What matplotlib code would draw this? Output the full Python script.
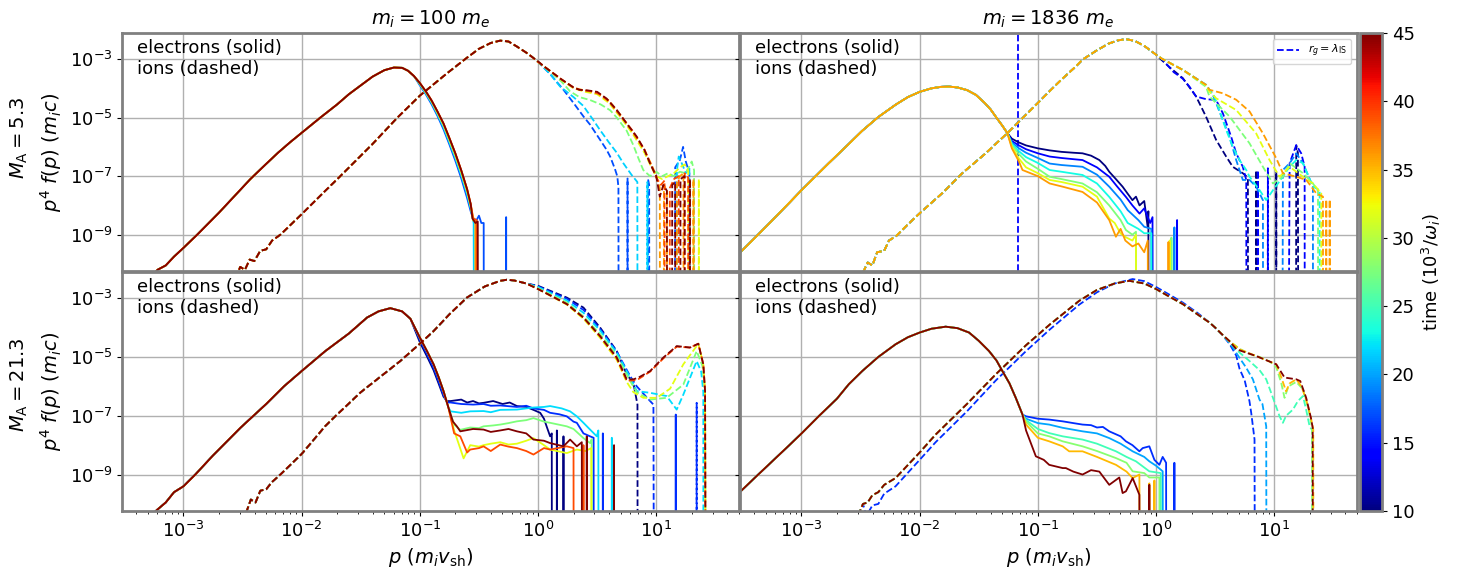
import numpy as np
import matplotlib
matplotlib.use("Agg")
import matplotlib.pyplot as plt
from matplotlib.colors import Normalize
from matplotlib.cm import ScalarMappable
from matplotlib.ticker import NullLocator

# all values are log10(p) and log10(p^4 f(p)); Z marks an empty bin
Z = -30

# ---------------- m_i = 100 m_e, M_A = 5.3 ----------------
tl_times = [17, 21.5, 27.5, 32, 36, 39, 45]
tl_e_x = [-3.30, -3.22, -3.15, -3.08, -3.0, -2.884, -2.7, -2.434, -2.3, -2.2, -2.1, -2.0, -1.842, -1.7, -1.6,
          -1.5, -1.4, -1.3, -1.22, -1.15, -1.1, -1.05, -1.0, -0.95, -0.9, -0.85, -0.8, -0.75, -0.7, -0.65,
          -0.6, -0.57]
tl_e_y = [-10.6, -10.2, -10.05, -9.75, -9.45, -9.0, -8.25, -7.1, -6.58, -6.2, -5.85, -5.52, -5.0, -4.55, -4.2,
          -3.9, -3.6, -3.38, -3.29, -3.3, -3.4, -3.58, -3.82, -4.1, -4.42, -4.8, -5.2, -5.7, -6.22, -6.8,
          -7.45, -7.95]
tl_e_tails = [
    [(-1.0, -3.9), (-0.95, -4.2), (-0.9, -4.55), (-0.85, -4.95), (-0.8, -5.4), (-0.75, -5.92), (-0.7, -6.47),
     (-0.65, -7.07), (-0.6, -7.75), (-0.57, -8.2), (-0.55, -8.45), (-0.52, -8.5), (-0.50, -8.35),
     (-0.48, -8.6), (-0.46, -8.6), (-0.455, Z), (-0.275, Z), (-0.27, -8.4), (-0.265, Z)],
    [(-1.0, -3.87), (-0.95, -4.17), (-0.9, -4.5), (-0.85, -4.9), (-0.8, -5.33), (-0.75, -5.85), (-0.7, -6.38),
     (-0.65, -6.97), (-0.6, -7.63), (-0.57, -8.1), (-0.56, -8.3), (-0.545, -8.6), (-0.53, Z)],
    [(-1.0, -3.85), (-0.95, -4.14), (-0.9, -4.47), (-0.85, -4.86), (-0.8, -5.28), (-0.75, -5.79), (-0.7, -6.32),
     (-0.65, -6.9), (-0.6, -7.55), (-0.57, -8.05), (-0.55, -8.5), (-0.53, -8.55), (-0.52, Z)],
    [(-1.0, -3.83), (-0.95, -4.12), (-0.9, -4.44), (-0.85, -4.83), (-0.8, -5.23), (-0.75, -5.74), (-0.7, -6.26),
     (-0.65, -6.84), (-0.6, -7.5), (-0.57, -8.0), (-0.55, -8.5), (-0.52, -8.6), (-0.51, Z)],
    [(-0.55, -8.4), (-0.53, -8.55), (-0.525, Z)],
    [(-0.55, -8.45), (-0.52, -8.5), (-0.515, Z)],
    [(-0.555, -8.45), (-0.53, -8.6), (-0.51, -8.55), (-0.505, Z)],
]
tl_i_x = [-2.56, -2.52, -2.48, -2.44, -2.40, -2.35, -2.30, -2.25, -2.18, -2.0, -1.8, -1.673, -1.4, -1.19,
          -1.0, -0.85, -0.743, -0.6, -0.5, -0.4, -0.32, -0.25, -0.18, -0.1, -0.05]
tl_i_y = [-10.5, -10.1, -10.2, -9.85, -9.9, -9.55, -9.5, -9.2, -9.0, -8.3, -7.5, -7.0, -5.9, -5.0,
          -4.25, -3.75, -3.4, -2.95, -2.65, -2.45, -2.37, -2.4, -2.57, -2.78, -2.93]
tl_i_tails = [
    [(0.0, -3.1), (0.1, -3.5), (0.215, -4.05), (0.3, -4.5), (0.384, -4.96), (0.44, -5.24), (0.525, -5.76),
     (0.58, -6.1), (0.61, -6.33), (0.65, -6.75), (0.67, -7.0), (0.68, -7.37), (0.685, Z), (0.752, Z),
     (0.757, -7.08), (0.762, Z), (0.925, Z), (0.93, -7.1), (0.94, -7.3), (0.945, Z), (1.15, Z),
     (1.16, -6.7), (1.2, -6.45), (1.227, -6.0), (1.25, -6.5), (1.28, -6.9), (1.285, Z)],
    [(0.0, -3.1), (0.1, -3.5), (0.187, -3.94), (0.3, -4.3), (0.383, -4.6), (0.47, -5.1), (0.52, -5.4),
     (0.6, -5.85), (0.666, -6.2), (0.72, -6.55), (0.79, -6.95), (0.84, -7.2), (0.845, Z), (0.92, Z),
     (0.925, -7.2), (0.93, Z), (1.17, Z), (1.175, -6.8), (1.19, -6.33), (1.22, -6.6), (1.25, -6.9),
     (1.28, -6.7), (1.29, Z)],
    [(0.0, -3.1), (0.1, -3.42), (0.2, -3.78), (0.27, -4.1), (0.35, -4.3), (0.44, -4.4), (0.53, -4.55),
     (0.61, -4.75), (0.666, -5.0), (0.75, -5.45), (0.807, -5.95), (0.85, -6.4), (0.89, -6.79),
     (0.947, -7.0), (1.0, -6.85), (1.05, -7.0), (1.1, -6.9), (1.15, -7.0), (1.2, -6.85), (1.25, -6.9),
     (1.3, -6.5), (1.32, -6.8), (1.325, Z)],
    [(0.0, -3.1), (0.1, -3.4), (0.2, -3.72), (0.3, -4.0), (0.4, -4.12), (0.5, -4.2), (0.6, -4.5),
     (0.7, -5.0), (0.8, -5.55), (0.9, -6.2), (0.96, -6.7), (1.0, -7.0), (1.05, -7.1), (1.1, -7.0),
     (1.15, -6.9), (1.2, -6.7), (1.24, -6.6), (1.27, -6.8), (1.28, Z), (1.355, Z), (1.36, -7.1), (1.365, Z)],
    [(0.0, -3.1), (0.1, -3.4), (0.2, -3.7), (0.3, -3.98), (0.4, -4.08), (0.5, -4.15), (0.6, -4.42),
     (0.7, -4.92), (0.8, -5.5), (0.9, -6.1), (0.97, -6.7), (1.0, -7.0), (1.03, -7.4), (1.035, Z),
     (1.06, Z), (1.065, -7.3), (1.09, -7.5), (1.095, Z), (1.17, Z), (1.175, -7.2), (1.2, -7.0),
     (1.23, -6.9), (1.235, Z), (1.31, Z), (1.315, -7.1), (1.32, Z)],
    [(0.0, -3.1), (0.1, -3.4), (0.2, -3.7), (0.3, -3.97), (0.35, -4.05), (0.45, -4.1), (0.52, -4.2),
     (0.6, -4.45), (0.7, -4.95), (0.8, -5.45), (0.9, -6.1), (0.97, -6.75), (1.0, -7.05), (1.04, -7.3),
     (1.07, -7.15), (1.075, Z), (1.11, Z), (1.115, -7.4), (1.15, -7.1), (1.19, -7.0), (1.195, Z),
     (1.235, Z), (1.24, -6.9), (1.27, -7.05), (1.275, Z)],
    [(0.0, -3.08), (0.05, -3.25), (0.1, -3.4), (0.2, -3.7), (0.3, -3.97), (0.35, -4.05), (0.42, -4.07),
     (0.5, -4.12), (0.58, -4.35), (0.666, -4.74), (0.75, -5.2), (0.835, -5.65), (0.9, -6.1),
     (0.947, -6.56), (1.0, -7.0), (1.03, -7.7), (1.06, -7.3), (1.09, -7.5), (1.095, Z), (1.13, Z),
     (1.135, -7.3), (1.16, -7.2), (1.165, Z), (1.2, Z), (1.205, -7.1), (1.24, -7.0), (1.245, Z),
     (1.28, Z), (1.285, -7.1), (1.29, Z)],
]

# ---------------- m_i = 1836 m_e, M_A = 5.3 ----------------
tr_times = [10, 14, 19, 23, 27.5, 32, 36]
tr_e_x = [-3.53, -3.4, -3.25, -3.1, -3.0, -2.9, -2.77, -2.6, -2.486, -2.35, -2.2, -2.1, -2.0, -1.9, -1.82,
          -1.752, -1.68, -1.6, -1.525, -1.45, -1.4, -1.356, -1.3, -1.258]
tr_e_y = [-9.65, -9.13, -8.52, -7.9, -7.48, -7.08, -6.56, -5.9, -5.45, -4.98, -4.55, -4.3, -4.12, -4.0, -3.95,
          -3.94, -3.97, -4.06, -4.22, -4.5, -4.72, -4.97, -5.28, -5.53]
tr_e_tails = [
    [(-1.22, -5.72), (-1.16, -5.85), (-1.1, -5.95), (-1.0, -6.05), (-0.9, -6.12), (-0.8, -6.17),
     (-0.7, -6.2), (-0.622, -6.22), (-0.55, -6.3), (-0.48, -6.45), (-0.43, -6.65), (-0.396, -6.85),
     (-0.34, -7.1), (-0.283, -7.36), (-0.24, -7.6), (-0.2, -7.82), (-0.17, -7.7), (-0.14, -8.0),
     (-0.1, -7.85), (-0.071, -8.73), (-0.065, -8.2), (-0.06, Z)],
    [(-1.22, -5.8), (-1.16, -5.95), (-1.1, -6.08), (-1.0, -6.22), (-0.9, -6.33), (-0.8, -6.38),
     (-0.7, -6.42), (-0.622, -6.45), (-0.5, -6.7), (-0.396, -7.02), (-0.33, -7.35), (-0.255, -7.71),
     (-0.2, -8.0), (-0.14, -8.28), (-0.1, -8.1), (-0.05, -8.6), (-0.03, -8.4), (-0.02, Z), (0.17, Z),
     (0.178, -8.5), (0.185, Z)],
    [(-1.22, -5.85), (-1.16, -6.05), (-1.1, -6.2), (-1.0, -6.38), (-0.9, -6.57), (-0.8, -6.62),
     (-0.622, -6.68), (-0.5, -6.95), (-0.396, -7.36), (-0.3, -7.8), (-0.24, -8.16), (-0.15, -8.5),
     (-0.1, -8.73), (-0.04, -8.8), (-0.03, Z), (0.15, Z), (0.155, -8.75), (0.16, Z)],
    [(-1.22, -5.9), (-1.16, -6.15), (-1.1, -6.35), (-1.0, -6.55), (-0.9, -6.79), (-0.8, -6.85),
     (-0.622, -6.96), (-0.5, -7.25), (-0.396, -7.71), (-0.3, -8.2), (-0.24, -8.6), (-0.15, -8.8),
     (-0.1, -8.95), (-0.04, -8.95), (-0.035, Z)],
    [(-1.22, -5.95), (-1.16, -6.25), (-1.1, -6.5), (-1.0, -6.75), (-0.9, -7.02), (-0.8, -7.1),
     (-0.622, -7.25), (-0.5, -7.55), (-0.396, -8.0), (-0.3, -8.5), (-0.255, -8.84), (-0.2, -9.0),
     (-0.17, -8.9), (-0.16, Z), (0.125, Z), (0.13, -9.1), (0.135, Z)],
    [(-1.22, -6.0), (-1.16, -6.4), (-1.1, -6.7), (-1.0, -6.9), (-0.9, -7.13), (-0.8, -7.2),
     (-0.622, -7.36), (-0.5, -7.7), (-0.396, -8.45), (-0.35, -8.6), (-0.3, -8.96), (-0.25, -9.1),
     (-0.2, -9.2), (-0.17, -9.0), (-0.16, Z), (0.11, Z), (0.115, -9.2), (0.12, Z)],
    [(-1.22, -6.05), (-1.16, -6.5), (-1.13, -6.79), (-1.0, -7.0), (-0.9, -7.25), (-0.79, -7.36),
     (-0.622, -7.54), (-0.5, -7.9), (-0.396, -8.5), (-0.34, -9.07), (-0.3, -8.8), (-0.26, -9.2),
     (-0.2, -9.4), (-0.15, -9.3), (-0.1, -9.6), (-0.07, -9.2), (-0.065, Z), (0.1, Z), (0.105, -9.25),
     (0.11, Z)],
]
tr_i_x = [-2.48, -2.44, -2.40, -2.36, -2.30, -2.26, -2.2, -2.1, -2.0, -1.8, -1.64, -1.45, -1.258, -1.0,
          -0.904, -0.8, -0.678, -0.622, -0.5, -0.4, -0.32, -0.254, -0.18, -0.1, 0.0]
tr_i_y = [-10.3, -9.95, -10.05, -9.6, -9.55, -9.2, -9.05, -8.65, -8.27, -7.55, -6.9, -6.25, -5.53, -4.5,
          -4.11, -3.7, -3.25, -3.02, -2.7, -2.47, -2.36, -2.32, -2.38, -2.55, -2.85]
tr_i_tails = [
    [(0.03, -2.97), (0.12, -3.3), (0.226, -3.65), (0.339, -4.28), (0.423, -4.97), (0.508, -5.76),
     (0.593, -6.33), (0.649, -6.68), (0.734, -6.9), (0.763, -7.0), (0.777, -7.13), (0.78, Z), (0.845, Z),
     (0.847, -6.8), (0.85, Z), (1.015, Z), (1.017, -6.85), (1.02, Z), (1.18, Z), (1.186, -5.95),
     (1.2, -6.2), (1.21, Z)],
    [(0.05, -3.0), (0.15, -3.45), (0.226, -3.67), (0.282, -3.94), (0.339, -4.28), (0.423, -4.37),
     (0.508, -4.4), (0.565, -4.85), (0.635, -5.65), (0.678, -6.22), (0.734, -6.68), (0.763, -7.13),
     (0.77, Z), (0.858, Z), (0.861, -6.8), (0.865, Z), (0.94, Z), (0.946, -6.73), (0.95, Z), (1.1, Z),
     (1.13, -6.56), (1.186, -5.94), (1.228, -6.22), (1.257, -6.68), (1.26, Z)],
    [(0.05, -2.99), (0.226, -3.37), (0.423, -3.88), (0.48, -4.22), (0.565, -5.08), (0.621, -5.65),
     (0.678, -6.45), (0.734, -7.13), (0.791, -7.13), (0.847, -7.36), (0.904, -7.82), (0.91, Z), (1.06, Z),
     (1.073, -6.79), (1.13, -6.56), (1.186, -6.22), (1.243, -6.56), (1.327, -7.36), (1.33, Z)],
    [(0.05, -2.99), (0.226, -3.37), (0.423, -3.88), (0.494, -4.28), (0.593, -5.42), (0.649, -5.99),
     (0.706, -6.45), (0.763, -6.79), (0.791, -7.02), (0.876, -7.48), (0.932, -7.82), (0.989, -7.48),
     (1.073, -7.02), (1.13, -6.68), (1.186, -6.45), (1.243, -6.56), (1.327, -7.36), (1.384, -7.48),
     (1.39, Z)],
    [(0.05, -2.99), (0.226, -3.37), (0.423, -3.95), (0.452, -4.28), (0.621, -4.96), (0.791, -5.88),
     (0.904, -6.68), (0.989, -7.25), (1.073, -7.02), (1.13, -6.56), (1.243, -6.9), (1.327, -7.25),
     (1.37, -7.5), (1.375, Z)],
    [(0.05, -2.99), (0.226, -3.37), (0.423, -3.9), (0.452, -4.11), (0.508, -4.34), (0.678, -4.74),
     (0.847, -5.54), (0.96, -6.45), (1.045, -7.02), (1.13, -6.68), (1.243, -7.02), (1.327, -7.25),
     (1.398, -7.59), (1.4, Z)],
    [(0.05, -2.99), (0.226, -3.37), (0.423, -3.88), (0.452, -4.05), (0.565, -4.17), (0.678, -4.39),
     (0.791, -4.79), (0.904, -5.54), (1.017, -6.39), (1.073, -6.9), (1.186, -7.02), (1.271, -7.13),
     (1.356, -7.59), (1.412, -7.7), (1.415, Z), (1.437, Z), (1.44, -7.8), (1.443, Z), (1.466, Z),
     (1.469, -7.8), (1.472, Z)],
]
r_g_lambda = 0.068

# ---------------- m_i = 100 m_e, M_A = 21.3 ----------------
bl_times = [10, 16, 22, 27.5, 32, 39, 45]
bl_e_x = [-3.30, -3.223, -3.15, -3.08, -3.0, -2.9, -2.75, -2.518, -2.3, -2.15, -2.0, -1.8, -1.6, -1.447,
          -1.35, -1.25, -1.15, -1.08, -1.0, -0.94, -0.884, -0.84, -0.8, -0.76]
bl_e_y = [-10.5, -10.2, -9.95, -9.6, -9.4, -9.0, -8.35, -7.41, -6.6, -6.0, -5.48, -4.8, -4.2, -3.66,
          -3.45, -3.34, -3.45, -3.7, -4.34, -4.8, -5.25, -5.7, -6.16, -6.7]
bl_e_tails = [
    [(-1.0, -4.5), (-0.94, -4.98), (-0.884, -5.45), (-0.84, -5.92), (-0.8, -6.35), (-0.77, -6.5),
     (-0.74, -6.5), (-0.65, -6.45), (-0.6, -6.55), (-0.55, -6.5), (-0.5, -6.58), (-0.461, -6.56),
     (-0.38, -6.5), (-0.3, -6.6), (-0.24, -6.55), (-0.179, -6.67), (-0.1, -6.7), (-0.039, -6.8),
     (0.018, -6.9), (0.05, -7.1), (0.074, -7.38), (0.102, -7.7), (0.116, -7.6), (0.12, Z), (0.155, Z),
     (0.159, -7.5), (0.163, Z), (0.21, Z), (0.215, -7.7), (0.22, Z)],
    [(-1.0, -4.42), (-0.94, -4.9), (-0.884, -5.37), (-0.84, -5.84), (-0.8, -6.3), (-0.77, -6.55),
     (-0.74, -6.55), (-0.65, -6.6), (-0.55, -6.62), (-0.461, -6.6), (-0.4, -6.66), (-0.32, -6.65),
     (-0.179, -6.7), (-0.1, -6.66), (-0.039, -6.75), (0.05, -6.8), (0.102, -6.9), (0.18, -6.95),
     (0.243, -7.02), (0.3, -7.2), (0.328, -7.24), (0.384, -7.6), (0.44, -7.7), (0.47, -7.75), (0.475, Z),
     (0.545, Z), (0.548, -7.6), (0.552, Z), (1.16, Z), (1.165, -6.96), (1.17, Z)],
    [(-0.74, -6.85), (-0.65, -6.9), (-0.574, -6.85), (-0.461, -6.84), (-0.4, -6.88), (-0.32, -6.8),
     (-0.179, -6.79), (-0.1, -6.75), (-0.039, -6.72), (0.05, -6.7), (0.102, -6.67), (0.2, -6.75),
     (0.271, -6.85), (0.328, -7.02), (0.384, -7.24), (0.44, -7.47), (0.497, -7.7), (0.51, -7.5),
     (0.515, Z), (0.62, Z), (0.624, -7.75), (0.628, Z)],
    [(-0.71, -7.3), (-0.658, -7.48), (-0.574, -7.4), (-0.5, -7.42), (-0.461, -7.36), (-0.38, -7.33),
     (-0.32, -7.3), (-0.25, -7.25), (-0.179, -7.19), (-0.1, -7.15), (-0.039, -7.08), (0.05, -7.2),
     (0.102, -7.24), (0.243, -7.36), (0.3, -7.45), (0.384, -7.76), (0.44, -7.93), (0.454, -7.8), (0.46, Z)],
    [(-0.71, -7.5), (-0.63, -8.45), (-0.574, -8.0), (-0.5, -8.05), (-0.461, -8.0), (-0.4, -7.95),
     (-0.32, -7.9), (-0.25, -7.98), (-0.179, -7.95), (-0.1, -7.85), (-0.039, -7.76), (0.05, -8.0),
     (0.102, -8.15), (0.243, -8.27), (0.328, -8.15), (0.4, -8.2), (0.45, -8.1), (0.455, Z)],
    [(-0.71, -7.6), (-0.658, -7.7), (-0.6, -8.25), (-0.574, -8.15), (-0.5, -8.1), (-0.461, -8.04),
     (-0.4, -8.2), (-0.32, -7.98), (-0.25, -8.05), (-0.179, -8.1), (-0.1, -8.2), (-0.039, -8.32),
     (0.05, -8.1), (0.102, -8.15), (0.243, -8.04), (0.3, -8.1), (0.305, Z), (0.38, Z), (0.384, -8.0),
     (0.39, Z)],
    [(-0.72, -7.2), (-0.687, -7.36), (-0.658, -7.53), (-0.55, -7.45), (-0.461, -7.47), (-0.4, -7.55),
     (-0.32, -7.5), (-0.25, -7.45), (-0.179, -7.53), (-0.1, -7.6), (-0.039, -7.81), (0.05, -7.85),
     (0.102, -7.93), (0.215, -8.04), (0.271, -7.81), (0.328, -8.04), (0.37, -7.9), (0.375, Z), (0.41, Z),
     (0.412, -7.7), (0.416, Z), (0.64, Z), (0.643, -8.0), (0.647, Z)],
]
bl_i_x = [-2.47, -2.43, -2.39, -2.35, -2.3, -2.25, -2.18, -2.0, -1.8, -1.729, -1.5, -1.166, -1.0, -0.884,
          -0.75, -0.602, -0.45, -0.32, -0.264, -0.2, -0.1]
bl_i_y = [-10.3, -9.85, -9.95, -9.55, -9.5, -9.25, -9.0, -8.3, -7.35, -7.07, -6.2, -5.14, -4.55, -4.12,
          -3.55, -2.98, -2.6, -2.41, -2.374, -2.4, -2.5]
bl_i_tails = [
    [(0.0, -2.58), (0.243, -2.98), (0.384, -3.32), (0.525, -4.0), (0.666, -4.8), (0.75, -5.59),
     (0.807, -5.9), (0.841, -6.62), (0.845, Z)],
    [(0.0, -2.6), (0.243, -3.02), (0.384, -3.4), (0.525, -4.05), (0.666, -4.82), (0.779, -5.65),
     (0.835, -6.0), (0.948, -6.5), (0.976, -6.62), (0.99, Z), (1.335, Z), (1.342, -6.56), (1.345, Z)],
    [(0.0, -2.62), (0.243, -3.08), (0.384, -3.5), (0.525, -4.1), (0.666, -4.85), (0.779, -5.7),
     (0.835, -6.16), (0.948, -6.22), (1.088, -6.33), (1.173, -6.79), (1.229, -6.28), (1.342, -5.14),
     (1.38, -5.5), (1.398, -6.2), (1.40, Z)],
    [(0.0, -2.66), (0.243, -3.15), (0.384, -3.62), (0.525, -4.22), (0.666, -4.95), (0.779, -5.82),
     (0.835, -6.2), (0.948, -6.45), (1.088, -6.39), (1.229, -5.94), (1.342, -4.8), (1.39, -5.3),
     (1.413, -6.17), (1.425, Z)],
    [(0.0, -2.69), (0.243, -3.22), (0.384, -3.7), (0.525, -4.35), (0.666, -5.1), (0.75, -5.85),
     (0.807, -6.2), (0.891, -6.39), (1.004, -6.39), (1.117, -6.08), (1.229, -5.25), (1.356, -4.55),
     (1.398, -5.25), (1.413, -6.17), (1.427, Z)],
    [(0.0, -2.69), (0.243, -3.2), (0.384, -3.66), (0.525, -4.3), (0.666, -5.05), (0.75, -5.8),
     (0.807, -5.8), (0.85, -5.75), (0.948, -5.5), (1.06, -5.05), (1.173, -4.65), (1.286, -4.68),
     (1.356, -4.55), (1.398, -5.25), (1.413, -6.17), (1.427, Z)],
    [(0.0, -2.69), (0.243, -3.2), (0.384, -3.66), (0.525, -4.29), (0.666, -5.02), (0.75, -5.76),
     (0.807, -5.76), (0.85, -5.7), (0.948, -5.48), (1.06, -5.02), (1.173, -4.63), (1.286, -4.68),
     (1.356, -4.55), (1.398, -5.25), (1.413, -6.17), (1.427, Z)],
]

# ---------------- m_i = 1836 m_e, M_A = 21.3 ----------------
br_times = [16, 20, 25, 28, 35, 45]
br_e_x = [-3.53, -3.4, -3.25, -3.1, -2.995, -2.85, -2.7, -2.6, -2.486, -2.35, -2.204, -2.1, -2.0, -1.9,
          -1.78, -1.68, -1.582, -1.5, -1.413, -1.35, -1.3, -1.24, -1.187, -1.13]
br_e_y = [-9.63, -9.13, -8.56, -7.99, -7.585, -7.0, -6.42, -5.93, -5.48, -5.0, -4.57, -4.33, -4.17, -4.04,
          -3.97, -4.02, -4.17, -4.45, -4.8, -5.12, -5.48, -5.9, -6.39, -6.96]
br_e_tails = [
    [(-1.1, -7.02), (-1.0, -7.1), (-0.904, -7.13), (-0.79, -7.19), (-0.7, -7.25), (-0.622, -7.3),
     (-0.55, -7.32), (-0.5, -7.4), (-0.45, -7.38), (-0.396, -7.53), (-0.3, -7.7), (-0.255, -7.87),
     (-0.2, -8.0), (-0.141, -8.21), (-0.113, -8.1), (-0.057, -8.04), (-0.014, -8.5), (0.028, -8.67),
     (0.056, -8.4), (0.085, -8.6), (0.09, Z), (0.15, Z), (0.155, -8.6), (0.16, Z)],
    [(-1.1, -7.1), (-1.0, -7.25), (-0.904, -7.3), (-0.79, -7.41), (-0.622, -7.53), (-0.5, -7.6),
     (-0.396, -7.76), (-0.3, -7.95), (-0.198, -8.21), (-0.1, -8.4), (-0.057, -8.55), (0.0, -8.7),
     (0.056, -8.89), (0.07, Z)],
    [(-1.1, -7.15), (-1.0, -7.45), (-0.904, -7.59), (-0.79, -7.7), (-0.622, -7.81), (-0.5, -7.95),
     (-0.339, -8.21), (-0.25, -8.4), (-0.17, -8.55), (-0.057, -8.89), (0.04, -8.95), (0.05, Z)],
    [(-1.1, -7.2), (-1.0, -7.6), (-0.904, -7.7), (-0.79, -7.87), (-0.622, -8.04), (-0.5, -8.2),
     (-0.339, -8.44), (-0.25, -8.6), (-0.198, -8.89), (-0.1, -8.95), (-0.057, -9.1), (0.028, -9.1),
     (0.03, Z)],
    [(-1.1, -7.3), (-1.0, -7.75), (-0.904, -7.87), (-0.79, -8.04), (-0.735, -8.21), (-0.622, -8.21),
     (-0.5, -8.4), (-0.339, -8.67), (-0.25, -8.9), (-0.198, -9.12), (-0.141, -9.0), (-0.127, Z),
     (-0.06, Z), (-0.057, -9.3), (-0.05, Z), (-0.02, Z), (-0.014, -9.2), (-0.01, Z)],
    [(-1.1, -7.5), (-1.017, -8.38), (-0.95, -8.5), (-0.904, -8.67), (-0.79, -8.78), (-0.763, -8.78),
     (-0.7, -8.9), (-0.622, -9.0), (-0.55, -8.85), (-0.48, -8.9), (-0.396, -9.35), (-0.311, -9.1),
     (-0.283, -9.63), (-0.255, -9.57), (-0.198, -9.12), (-0.141, -9.69), (-0.135, Z), (-0.06, Z),
     (-0.057, -9.35), (-0.052, Z)],
]
br_i_x = [-2.52, -2.48, -2.44, -2.40, -2.35, -2.30, -2.204, -2.0, -1.865, -1.6, -1.356, -1.1, -0.9,
          -0.65, -0.5, -0.35, -0.226, -0.1, 0.0, 0.1, 0.226, 0.35, 0.452, 0.5]
br_i_y = [-10.4, -10.0, -9.95, -9.7, -9.6, -9.35, -9.12, -8.25, -7.64, -6.6, -5.59, -4.6, -3.9,
          -3.09, -2.72, -2.5, -2.41, -2.5, -2.69, -2.92, -3.2, -3.55, -3.83, -4.0]
br_i_tails = [
    [(-2.45, -10.4), (-2.40, -10.05), (-2.35, -10.0), (-2.30, -9.65), (-2.204, -9.4), (-2.0, -8.5),
     (-1.865, -7.9), (-1.6, -6.85), (-1.356, -5.8), (-1.1, -4.8), (-0.9, -4.07), (-0.65, -3.22),
     (-0.5, -2.8), (-0.35, -2.5), (-0.198, -2.35), (-0.1, -2.42), (0.0, -2.62), (0.1, -2.85),
     (0.226, -3.15), (0.35, -3.5), (0.452, -3.83), (0.55, -4.2), (0.621, -4.55), (0.678, -4.95),
     (0.706, -5.4), (0.75, -5.8), (0.79, -6.5), (0.805, -6.9), (0.833, -7.8), (0.845, Z)],
    [(0.55, -4.2), (0.621, -4.5), (0.706, -5.03), (0.76, -5.35), (0.819, -5.76), (0.875, -6.45),
     (0.9, -6.6), (0.932, -7.36), (0.94, Z)],
    [(0.55, -4.2), (0.621, -4.5), (0.706, -4.85), (0.791, -5.14), (0.876, -5.45), (0.932, -5.76),
     (0.99, -6.4), (1.045, -7.02), (1.073, -7.24), (1.1, -7.0), (1.158, -6.79), (1.2, -6.5),
     (1.243, -6.33), (1.27, -6.8), (1.299, -7.36), (1.322, -7.5), (1.325, Z)],
    [(0.55, -4.2), (0.621, -4.46), (0.706, -4.72), (0.791, -4.9), (0.876, -5.0), (0.96, -5.15),
     (1.017, -5.35), (1.06, -5.9), (1.087, -6.39), (1.12, -6.0), (1.186, -5.85), (1.243, -6.1),
     (1.29, -6.8), (1.32, -7.4), (1.325, Z)],
    [(0.55, -4.2), (0.621, -4.46), (0.706, -4.74), (0.848, -4.97), (1.017, -5.25), (1.06, -5.7),
     (1.1, -6.17), (1.13, -5.9), (1.186, -5.76), (1.23, -6.0), (1.27, -6.45), (1.31, -7.07),
     (1.33, -7.47), (1.335, Z)],
    [(0.55, -4.2), (0.621, -4.46), (0.68, -4.74), (0.848, -4.97), (1.017, -5.25), (1.087, -5.7),
     (1.186, -5.76), (1.22, -5.82), (1.27, -6.39), (1.31, -7.07), (1.325, -7.4), (1.33, Z)],
]

col_titles = [r"$m_i = 100\ m_e$", r"$m_i = 1836\ m_e$"]
row_labels = [r"$M_{\rm A} = 5.3$", r"$M_{\rm A} = 21.3$"]

cmap = plt.get_cmap("jet")
norm = Normalize(10, 45)


def join(bx, by, tail):
    # bulk points up to where this time's tail takes over
    n = sum(1 for x in bx if x < tail[0][0])
    xs = list(bx[:n]) + [t[0] for t in tail]
    ys = list(by[:n]) + [t[1] for t in tail]
    return 10.0 ** np.array(xs), 10.0 ** np.array(ys, dtype=float)


def draw(ax, times, ex, ey, etails, ix, iy, itails):
    for t, et, it in zip(times, etails, itails):
        c = cmap(norm(t))
        ax.plot(*join(ex, ey, et), color=c, lw=1.3)
        ax.plot(*join(ix, iy, it), color=c, lw=1.3, ls="--")


W, H = 1461, 570


def box(x0, y0, x1, y1):
    return [x0 / W, 1 - y1 / H, (x1 - x0) / W, (y1 - y0) / H]


fig = plt.figure(figsize=(W / 100, H / 100), dpi=100)
ax_tl = fig.add_axes(box(122, 33, 739, 271))
ax_tr = fig.add_axes(box(740, 33, 1357, 271), sharex=ax_tl, sharey=ax_tl)
ax_bl = fig.add_axes(box(122, 272, 739, 511), sharex=ax_tl, sharey=ax_tl)
ax_br = fig.add_axes(box(740, 272, 1357, 511), sharex=ax_tl, sharey=ax_tl)
cax = fig.add_axes(box(1360, 33, 1382, 511))

ax_tr.axvline(r_g_lambda, color="b", ls="--", lw=1.3, label=r"$r_g = \lambda_{\rm IS}$")

draw(ax_tl, tl_times, tl_e_x, tl_e_y, tl_e_tails, tl_i_x, tl_i_y, tl_i_tails)
draw(ax_tr, tr_times, tr_e_x, tr_e_y, tr_e_tails, tr_i_x, tr_i_y, tr_i_tails)
draw(ax_bl, bl_times, bl_e_x, bl_e_y, bl_e_tails, bl_i_x, bl_i_y, bl_i_tails)
draw(ax_br, br_times, br_e_x, br_e_y, br_e_tails, br_i_x, br_i_y, br_i_tails)

ax_tl.set_xscale("log")
ax_tl.set_yscale("log")
ax_tl.set_xlim(10 ** -3.52, 10 ** 1.70)
ax_tl.set_ylim(10 ** -10.24, 10 ** -2.11)
ax_tl.set_yticks([1e-9, 1e-7, 1e-5, 1e-3])
ax_tl.yaxis.set_minor_locator(NullLocator())

for ax in [ax_tl, ax_tr, ax_bl, ax_br]:
    ax.grid(True, which="major", color="#b0b0b0", lw=1.0)
    ax.tick_params(labelsize=13)
    for s in ax.spines.values():
        s.set_color("gray")
        s.set_linewidth(2)
    ax.text(0.025, 0.975, "electrons (solid)\nions (dashed)", transform=ax.transAxes,
            va="top", ha="left", fontsize=13)

ax_tl.tick_params(labelbottom=False)
ax_tr.tick_params(labelbottom=False, labelleft=False)
ax_br.tick_params(labelleft=False)

ax_tl.set_title(col_titles[0], fontsize=14)
ax_tr.set_title(col_titles[1], fontsize=14)
for ax in [ax_bl, ax_br]:
    ax.set_xlabel(r"$p\ (m_i v_{\rm sh})$", fontsize=14)
for ax in [ax_tl, ax_bl]:
    ax.set_ylabel(r"$p^4\ f(p)\ (m_i c)$", fontsize=14)
fig.text(19 / W, 1 - 138 / H, row_labels[0], rotation=90, ha="center", va="center", fontsize=14)
fig.text(19 / W, 1 - 385 / H, row_labels[1], rotation=90, ha="center", va="center", fontsize=14)

ax_tr.legend(loc="upper right", fontsize=8)

cb = fig.colorbar(ScalarMappable(norm=norm, cmap=cmap), cax=cax)
cb.set_ticks(list(range(10, 50, 5)))
cb.ax.tick_params(labelsize=13)
cb.set_label(r"time ($10^3/\omega_i$)", fontsize=13)
cb.outline.set_edgecolor("gray")
cb.outline.set_linewidth(2)

fig.savefig("out.png", dpi=100)
